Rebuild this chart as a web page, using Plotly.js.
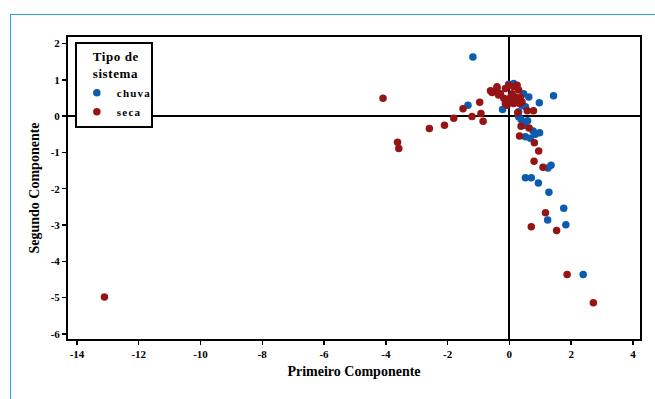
<!DOCTYPE html>
<html>
<head>
<meta charset="utf-8">
<script src="https://cdn.plot.ly/plotly-3.0.1.min.js"></script>
<style>
  html, body { margin: 0; padding: 0; background: #ffffff; }
  #wrap { position: relative; width: 655px; height: 399px; overflow: hidden; }
  #frame { position: absolute; left: 10px; top: 14px; width: 660px; height: 400px;
           border-top: 1.5px solid #2ea3da; border-left: 1.5px solid #2ea3da; box-sizing: border-box; pointer-events: none; }
  #chart { position: absolute; left: 0; top: 0; width: 655px; height: 399px; }
  #chart .legendtext { letter-spacing: 1.2px; }
  #chart .legendtitletext { letter-spacing: 0.6px; }
</style>
</head>
<body>
<div id="wrap">
  <div id="chart"></div>
  <div id="frame"></div>
</div>
<script>
// Tipo de sistema: chuva (blue)
const chuvaX = [-1.18, -1.34, -0.40, -0.02, 0.14, -0.22, 0.46, 0.63, 0.97, 1.43,
                0.41, 0.52, 0.30, 0.30, 0.38, 0.59, 0.50, 0.77, 0.98, 0.84,
                0.52, 0.68, 1.35, 1.25, 0.52, 0.71, 0.94, 1.28, 1.76, 1.24,
                1.83, 2.39];
const chuvaY = [1.63, 0.30, 0.76, 0.88, 0.90, 0.18, 0.62, 0.53, 0.37, 0.56,
                0.30, 0.26, 0.12, -0.02, -0.09, -0.13, -0.25, -0.41, -0.46, -0.50,
                -0.57, -0.61, -1.35, -1.43, -1.70, -1.70, -1.84, -2.10, -2.54, -2.86,
                -2.99, -4.36];
// Tipo de sistema: seca (red)
const secaX = [-13.11, -4.09, -3.62, -3.58, -2.59, -2.10, -1.80, -1.50, -1.21, -0.96,
               -0.92, -0.85, -0.61, -0.56, -0.45, -0.40, -0.35, -0.29, -0.13, -0.07,
               -0.02, 0.14, 0.25, 0.30, 0.09, 0.19, 0.36, -0.02, 0.14, 0.33,
               -0.13, 0.41, 0.23, 0.03, -0.18, 0.27, 0.58, 0.78, 0.38, 0.64,
               0.33, 0.81, 0.95, 0.80, 1.09, 1.17, 0.71, 1.53, 1.87, 2.72];
const secaY = [-4.98, 0.49, -0.72, -0.89, -0.34, -0.25, -0.06, 0.20, -0.01, 0.38,
               0.07, -0.14, 0.70, 0.65, 0.70, 0.81, 0.58, 0.62, 0.76, 0.30,
               0.85, 0.81, 0.85, 0.72, 0.62, 0.53, 0.51, 0.39, 0.35, 0.35,
               0.35, 0.39, 0.46, 0.51, 0.49, 0.09, 0.15, 0.15, -0.28, -0.33,
               -0.55, -0.73, -0.96, -1.24, -1.41, -2.66, -3.05, -3.15, -4.36, -5.14];

const xTickVals = [-14, -12, -10, -8, -6, -4, -2, 0, 2, 4];
const xTickText = ["-14", "-12", "-10", "-8", "-6", "-4", "-2", "0", "2", "4"];
const yTickVals = [-6, -5, -4, -3, -2, -1, 0, 1, 2];
const yTickText = ["-6", "-5", "-4", "-3", "-2", "-1", "0", "1", "2"];

const serif = "Liberation Serif, Times New Roman, serif";

const traces = [
  { type: "scatter", mode: "markers", name: "chuva", x: chuvaX, y: chuvaY,
    marker: { color: "#0b5cb0", size: 7.5 } },
  { type: "scatter", mode: "markers", name: "seca", x: secaX, y: secaY,
    marker: { color: "#971414", size: 7.5 } }
];

const axisCommon = {
  showline: true, mirror: true, linecolor: "#000", linewidth: 2,
  showgrid: false, zeroline: true, zerolinecolor: "#000", zerolinewidth: 2,
  ticks: "outside", ticklen: 4, tickwidth: 1.5, tickcolor: "#000",
  tickfont: { family: serif, size: 11, color: "#000", weight: "bold" },
  tickmode: "array"
};

const layout = {
  width: 655, height: 399,
  margin: { l: 68, r: 15, t: 37, b: 60 },
  paper_bgcolor: "rgba(0,0,0,0)", plot_bgcolor: "#fff",
  showlegend: true,
  xaxis: Object.assign({}, axisCommon, {
    range: [-14.29, 4.23], tickvals: xTickVals, ticktext: xTickText,
    title: { text: "<b>Primeiro Componente</b>", font: { family: serif, size: 14, color: "#000" }, standoff: 7 }
  }),
  yaxis: Object.assign({}, axisCommon, {
    range: [-6.14, 2.18], tickvals: yTickVals, ticktext: yTickText,
    title: { text: "<b>Segundo Componente</b>", font: { family: serif, size: 14, color: "#000" }, standoff: 8 }
  }),
  legend: {
    x: 0.012, y: 0.982, xanchor: "left", yanchor: "top",
    bgcolor: "#fff", bordercolor: "#000", borderwidth: 2,
    font: { family: serif, size: 11, color: "#000", weight: "bold" },
    title: { text: "<b>Tipo de<br>sistema</b>", side: "top center", font: { family: serif, size: 13, color: "#000" } },
    tracegroupgap: 0, itemwidth: 30
  }
};

Plotly.newPlot("chart", traces, layout, { displayModeBar: false, staticPlot: true });
</script>
</body>
</html>
